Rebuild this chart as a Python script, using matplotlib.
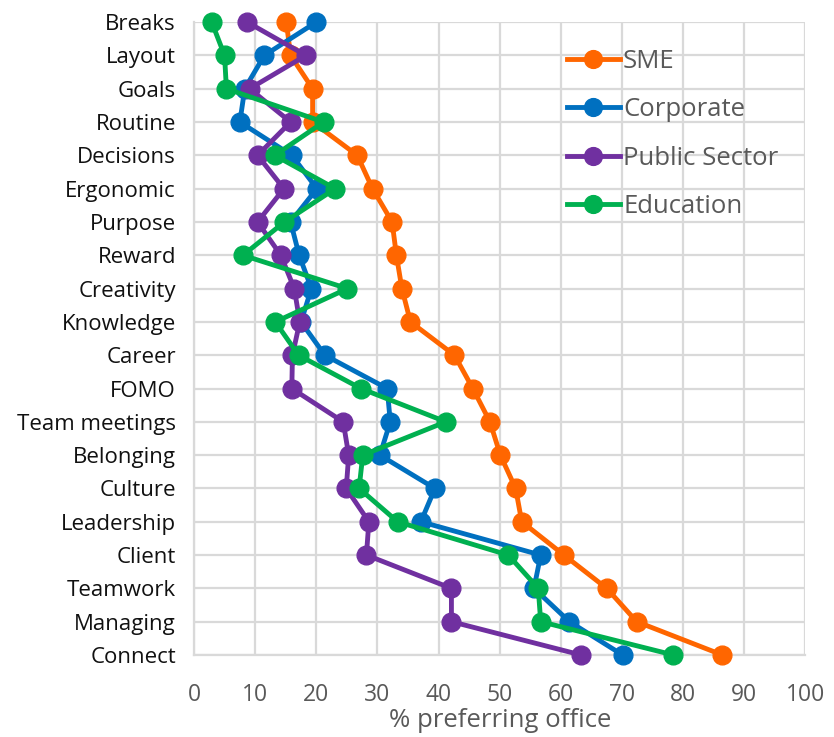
import matplotlib
matplotlib.use('Agg')
import matplotlib.pyplot as plt

categories = ['Breaks', 'Layout', 'Goals', 'Routine', 'Decisions', 'Ergonomic', 'Purpose',
              'Reward', 'Creativity', 'Knowledge', 'Career', 'FOMO', 'Team meetings',
              'Belonging', 'Culture', 'Leadership', 'Client', 'Teamwork', 'Managing', 'Connect']
sme = [15.1, 15.8, 19.4, 19.4, 26.7, 29.2, 32.4, 33.1, 34.0, 35.4,
       42.6, 45.6, 48.4, 50.1, 52.6, 53.6, 60.5, 67.5, 72.4, 86.4]
corporate = [20.0, 11.5, 8.3, 7.5, 16.0, 20.1, 15.8, 17.2, 19.2, 17.5,
             21.4, 31.6, 32.1, 30.4, 39.4, 37.1, 56.7, 55.6, 61.4, 70.1]
public = [8.7, 18.3, 9.1, 15.8, 10.4, 14.7, 10.4, 14.2, 16.4, 17.3,
          16.1, 16.0, 24.4, 25.3, 24.9, 28.6, 28.2, 42.1, 42.1, 63.3]
education = [2.9, 5.0, 5.3, 21.2, 13.2, 23.1, 14.8, 8.0, 25.1, 13.3,
             17.1, 27.3, 41.2, 27.6, 27.0, 33.3, 51.4, 56.3, 56.7, 78.4]

series = [('SME', sme, '#FF6600'),
          ('Corporate', corporate, '#0070C0'),
          ('Public Sector', public, '#7030A0'),
          ('Education', education, '#00B050')]

plt.rcParams['font.family'] = ['Open Sans', 'DejaVu Sans']

fig = plt.figure(figsize=(8.34, 7.37), dpi=100)
ax = fig.add_axes([0.2326, 0.1113, 0.7332, 0.8587])

ypos = list(range(len(categories)))
for name, vals, col in series:
    ax.plot(vals, ypos, color=col, lw=3.5, marker='o', markersize=13.5,
            label=name, clip_on=False, zorder=3)

ax.set_xlim(0, 100)
ax.set_ylim(len(categories) - 1, 0)
ax.set_xticks(range(0, 101, 10))
ax.set_yticks(ypos)
ax.set_yticklabels(categories, fontsize=16, color='#111111')
ax.tick_params(axis='x', labelsize=16.5, labelcolor='#595959', length=0, pad=20)
ax.tick_params(axis='y', length=0, pad=13)
ax.grid(True, color='#D9D9D9', lw=1.6)
ax.set_axisbelow(True)
for s in ['top', 'right']:
    ax.spines[s].set_visible(False)
for s in ['left', 'bottom']:
    ax.spines[s].set_color('#D9D9D9')
    ax.spines[s].set_linewidth(1.6)

ax.set_xlabel('% preferring office', fontsize=18.5, color='#595959', labelpad=1)

leg = ax.legend(loc='upper left', bbox_to_anchor=(0.61, 0.957), frameon=False,
                fontsize=18.5, labelcolor='#595959', handlelength=2.05,
                handletextpad=0.13, labelspacing=0.9, borderpad=0,
                borderaxespad=0, markerscale=0.95)

fig.savefig('out.png', dpi=100)
